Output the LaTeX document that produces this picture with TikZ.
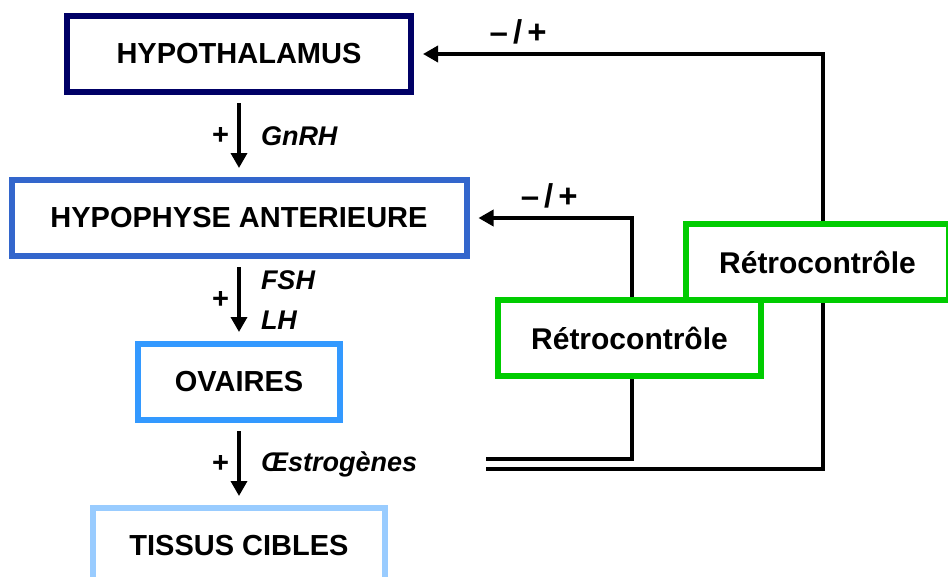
\documentclass[tikz,border=0pt]{standalone}
\usepackage{fontspec}
\setmainfont{Liberation Sans}
\usetikzlibrary{arrows.meta,positioning}

\definecolor{hypoblue}{HTML}{000066}
\definecolor{anteblue}{HTML}{3366CC}
\definecolor{ovblue}{HTML}{3399FF}
\definecolor{tisblue}{HTML}{99CCFF}
\definecolor{retrogreen}{HTML}{00CC00}

\begin{document}
\begin{tikzpicture}[
  x=1pt, y=-1pt,
  every node/.style={outer sep=0pt},
  box/.style={rectangle, draw, line width=6pt, fill=white, minimum height=76pt, font=\fontsize{29}{34}\selectfont\bfseries},
  lvl0/.style={box, draw=hypoblue, minimum width=344pt},
  lvl1/.style={box, draw=anteblue, minimum width=455pt},
  lvl2/.style={box, draw=ovblue, minimum width=202pt},
  lvl3/.style={box, draw=tisblue, minimum width=292pt},
  retro/.style={box, draw=retrogreen, minimum width=263pt, font=\fontsize{30}{36}\selectfont\bfseries},
  arrow/.style={-{Triangle[length=15pt,width=16pt]}, line width=3.5pt, shorten <=11pt, shorten >=12pt},
  fb/.style={-{Triangle[length=15pt,width=16pt]}, line width=3.5pt, shorten >=12pt},
  sign/.style={inner sep=0pt, font=\fontsize{29}{34}\selectfont\bfseries},
  fbsign/.style={inner sep=0pt, font=\fontsize{33}{38}\selectfont\bfseries},
  hormone/.style={inner sep=0pt, align=left, font=\fontsize{27}{40}\selectfont\bfseries\itshape}
]
\useasboundingbox (0,0) rectangle (948,576);

% Axe hormonal (colonne de gauche)
\node[lvl0] (hypo) at (239,54) {HYPOTHALAMUS};
\node[lvl1, below=88pt of hypo] (ante) {HYPOPHYSE ANTERIEURE};
\node[lvl2, below=88pt of ante] (ovaires) {OVAIRES};
\node[lvl3, below=88pt of ovaires] (tissus) {TISSUS CIBLES};

% Fleches descendantes
\draw[arrow] (hypo) -- node[sign, midway, left=10pt] {+} node[hormone, midway, right=22pt] {GnRH} (ante);
\draw[arrow] (ante) -- node[sign, midway, left=10pt] {+} node[hormone, midway, right=22pt] {FSH\\LH} (ovaires);
\draw[arrow] (ovaires) -- node[sign, midway, left=10pt] {+} node[hormone, midway, right=22pt] {Œstrogènes} (tissus);

% Boucles de retrocontrole
\coordinate (fbB) at (486,459);
\coordinate (fbA) at (486,469);
\coordinate (turnB) at (632,459);
\coordinate (turnA) at (823,469);
\draw[fb] (fbB) -- (turnB) |- node[fbsign, pos=0.75, above=10pt] {--\hspace{5pt}/\hspace{5pt}+} (ante.east);
\draw[fb] (fbA) -- (turnA) |- node[fbsign, pos=0.87, above=10pt] {--\hspace{5pt}/\hspace{5pt}+} (hypo.east);

\node[retro] (retroA) at (817.5,262) {Rétrocontrôle};
\node[retro] (retroB) at (629.5,338) {Rétrocontrôle};

\end{tikzpicture}
\end{document}
